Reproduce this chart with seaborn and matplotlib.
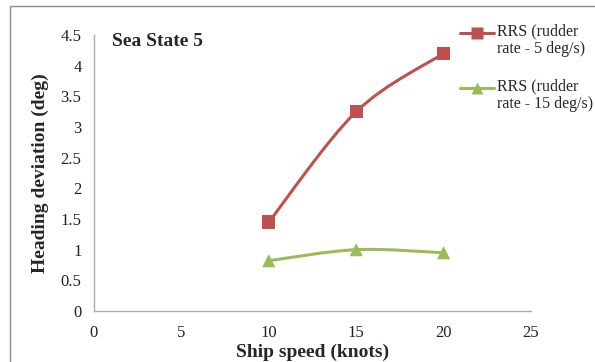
import matplotlib
matplotlib.use("Agg")
import matplotlib.pyplot as plt
import seaborn as sns
import numpy as np
import pandas as pd
from matplotlib.path import Path
from matplotlib.patches import PathPatch, Rectangle
from matplotlib.lines import Line2D

# Data
speeds = [10, 15, 20]
rrs_5 = [1.45, 3.25, 4.2]
rrs_15 = [0.82, 1.0, 0.95]
series_names = ["RRS (rudder\nrate - 5 deg/s)", "RRS (rudder\nrate - 15 deg/s)"]
x_ticks = [0, 5, 10, 15, 20, 25]
y_ticks = [0, 0.5, 1, 1.5, 2, 2.5, 3, 3.5, 4, 4.5]
y_tick_labels = ["0", "0.5", "1", "1.5", "2", "2.5", "3", "3.5", "4", "4.5"]

sns.set_theme(style="white")
plt.rcParams["font.family"] = ["Liberation Serif", "DejaVu Serif"]

RED = "#C0504D"
GREEN = "#9BBB59"
W, H = 595, 362

fig = plt.figure(figsize=(W / 100, H / 100), dpi=100)
ax = fig.add_axes([94 / W, 1 - 311 / H, (531 - 94) / W, (311 - 35) / H])

df = pd.DataFrame({
    "speed": speeds * 2,
    "dev": rrs_5 + rrs_15,
    "series": [series_names[0]] * 3 + [series_names[1]] * 3,
})


def smooth_path(xs, ys, t=1 / 6):
    pts = np.column_stack([xs, ys]).astype(float)
    n = len(pts)
    verts = [pts[0]]
    codes = [Path.MOVETO]
    for i in range(n - 1):
        p0 = pts[i - 1] if i > 0 else pts[i]
        p1 = pts[i]
        p2 = pts[i + 1]
        p3 = pts[i + 2] if i + 2 < n else pts[i + 1]
        c1 = p1 + (p2 - p0) * t
        c2 = p2 - (p3 - p1) * t
        verts += [c1, c2, p2]
        codes += [Path.CURVE4] * 3
    return Path(verts, codes)


for ys, col in [(rrs_5, RED), (rrs_15, GREEN)]:
    ax.add_patch(PathPatch(smooth_path(speeds, ys), facecolor="none",
                           edgecolor=col, lw=2.2, zorder=2))

sns.scatterplot(data=df, x="speed", y="dev", hue="series", style="series",
                palette=[RED, GREEN], markers=["s", "^"], s=90,
                edgecolor="none", ax=ax, legend=False, zorder=3)

ax.set_xlim(0, 25)
ax.set_ylim(0, 4.5)
ax.set_xticks(x_ticks)
ax.set_xticklabels([str(v) for v in x_ticks])
ax.set_yticks(y_ticks)
ax.set_yticklabels(y_tick_labels)
ax.tick_params(axis="both", length=0, labelsize=12, colors="#222222")
ax.tick_params(axis="y", pad=9)
ax.tick_params(axis="x", pad=10)
for s in ["top", "right"]:
    ax.spines[s].set_visible(False)
for s in ["left", "bottom"]:
    ax.spines[s].set_color("#ABABAB")
    ax.spines[s].set_linewidth(1.0)

ax.set_xlabel("Ship speed (knots)", fontsize=14, fontweight="bold", labelpad=2)
ax.set_ylabel("Heading deviation (deg)", fontsize=14, fontweight="bold", labelpad=8)
ax.text((112 - 94) / (531 - 94), (311 - 46) / (311 - 35), "Sea State 5",
        transform=ax.transAxes, fontsize=14, fontweight="bold",
        va="baseline", ha="left")

# Legend drawn Excel-style: handle aligned with first text line
leg_items = [(RED, "s", 33), (GREEN, "^", 88)]
for (col, mk, ypix), name in zip(leg_items, series_names):
    yf = 1 - ypix / H
    fig.add_artist(Line2D([460 / W, 494 / W], [yf, yf], color=col, lw=2.2,
                          transform=fig.transFigure))
    fig.add_artist(Line2D([477 / W], [yf], color=col, marker=mk, markersize=9,
                          markeredgecolor="none", transform=fig.transFigure))
    fig.text(497 / W, 1 - (ypix - 10) / H, name, fontsize=11.5, va="top",
             ha="left", linespacing=1.2)

fig.patches.append(Rectangle((10 / W, -0.1), 1.2, 1 - 6 / H + 0.1,
                             transform=fig.transFigure, fill=False,
                             edgecolor="#8C8C8C", lw=1.0))

fig.savefig("out.png", dpi=100)
